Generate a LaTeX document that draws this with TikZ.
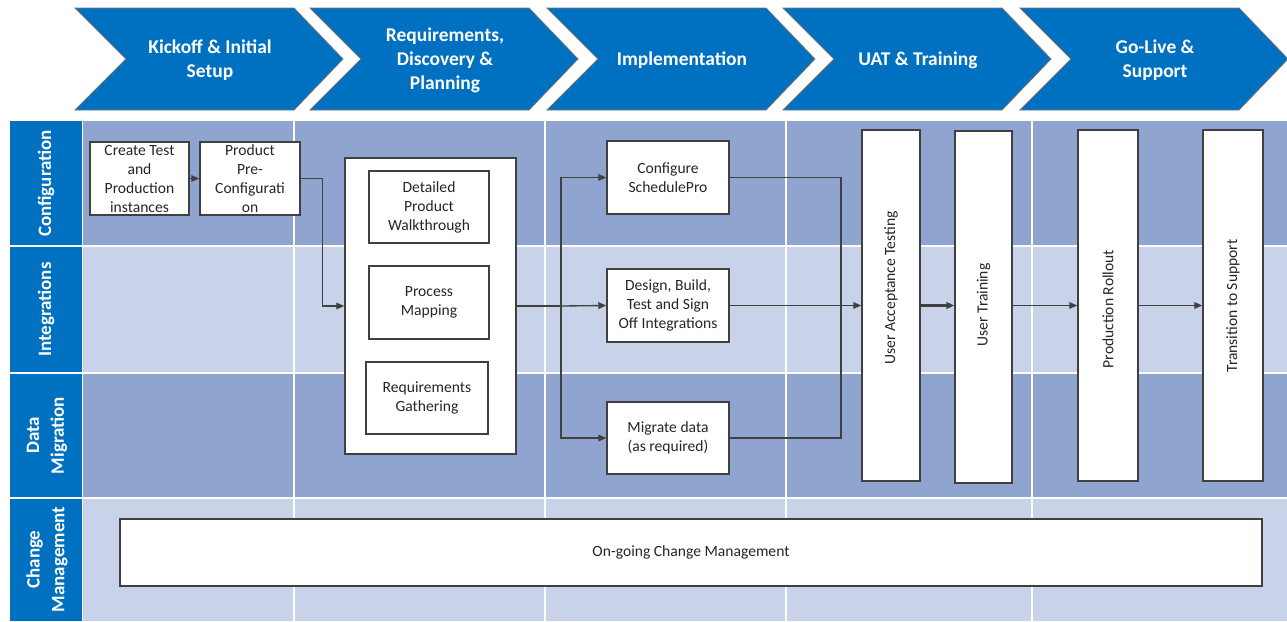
\documentclass[tikz,border=0pt]{standalone}
\usepackage{fontspec}
\setmainfont{Carlito}
\usetikzlibrary{arrows.meta}
\definecolor{chev}{RGB}{0,112,192}
\definecolor{rowdark}{RGB}{143,165,208}
\definecolor{rowlight}{RGB}{200,211,233}
\definecolor{ink}{RGB}{64,64,64}
\begin{document}
\begin{tikzpicture}[x=0.75pt,y=-0.75pt,
  box/.style={draw=ink, line width=1.1pt, fill=white, inner sep=0pt, align=center,
    font=\fontsize{11.7}{14.25}\selectfont, text=black!85},
  % a box given by its corners: left/top/right/bottom
  spans/.style args={#1/#2/#3/#4}{minimum width={(#3-#1)*0.75pt},
    minimum height={(#4-#2)*0.75pt}, at={({(#1+#3)/2},{(#2+#4)/2})}},
  tall/.style={rotate=90, inner sep=0pt, font=\fontsize{11.7}{14}\selectfont, text=black!85},
  flow/.style={draw=ink, line width=1pt, -{Triangle[length=6pt,width=5pt]}},
  heavyflow/.style={flow, line width=1.8pt},
  link/.style={draw=ink, line width=1pt},
  phase/.style={fill=chev, draw=black!55, line width=0.6pt},
  phasetext/.style={text=white, font=\bfseries\fontsize{14.6}{18}\selectfont, align=center},
  lanetext/.style={text=white, font=\bfseries\fontsize{14.2}{18.5}\selectfont, align=center, rotate=90},
  sep/.style={draw=white, line width=1.4pt}]
\useasboundingbox (0,0) rectangle (1287,621);

% phase chevrons
\foreach \x/\t [count=\i] in {75/{Kickoff \& Initial\\Setup},
    310/{Requirements,\\Discovery \&\\Planning},
    547/Implementation,
    783/{UAT \& Training},
    1020/{Go-Live \&\\Support}} {
  \filldraw[phase] (\x,8) -- ++(219,0) -- ++(49,51) -- ++(-49,51) -- ++(-219,0) -- ++(51,-51) -- cycle;
  \node[phasetext] (ph\i) at (\x+135,60) {\t};
}

% swim lanes
\fill[rowdark]  (83,121) rectangle (1287,246);
\fill[rowlight] (83,246) rectangle (1287,373);
\fill[rowdark]  (83,373) rectangle (1287,498);
\fill[rowlight] (83,498) rectangle (1287,621);
\fill[chev] (10,121) rectangle (82,621);
\foreach \y in {246,373,498} \draw[sep] (10,\y) -- (1287,\y);
\foreach \x in {82.5,294,545,786,1032} \draw[sep] (\x,121) -- (\x,621);

\node[lanetext] (lconf) at (46,183.5) {Configuration};
\node[lanetext] (lint)  at (46,309.5) {Integrations};
\node[lanetext] (ldata) at (47,435.5) {Data\\Migration};
\node[lanetext] (lchg)  at (47,559.5) {Change\\Management};

% kickoff tasks
\node[box, spans=90/142/189/215] (create) {Create Test\\and\\Production\\instances};
\node[box, spans=200/142/300/215] (prod) {Product\\Pre-\\Configurati\\on};

% discovery group
\node[box, spans=345/158/516/454] (disc) {};
\node[box, spans=369/171/489/243] (walk) {Detailed\\Product\\Walkthrough};
\node[box, spans=369/266/489/339] (map) {Process\\Mapping};
\node[box, spans=366/362/488/434] (reqs) {Requirements\\Gathering};

% implementation tasks
\node[box, spans=607/141/729/214] (conf) {Configure\\SchedulePro};
\node[box, spans=607/269/729/342] (integ) {Design, Build,\\Test and Sign\\Off Integrations};
\node[box, spans=607/402/729/474] (mig) {Migrate data\\(as required)};

% UAT, training, go-live
\node[box, spans=862/130/920/481] (uat) {};
\node[tall] (uatt) at (891,288) {User Acceptance Testing};
\node[box, spans=955/131/1012/483] (ut) {};
\node[tall] (utt) at (983.5,305) {User Training};
\node[box, spans=1078/130/1138/481] (pr) {};
\node[tall] (prt) at (1108,309) {Production Rollout};
\node[box, spans=1203/130/1263/481] (ts) {};
\node[tall] (tst) at (1233,306) {Transition to Support};

% change management
\node[box, spans=120/519/1262/586] (chg) {On-going Change Management};

% connectors
\coordinate (split) at (561,306);
\coordinate (join) at (841,306);
\draw[flow] (create.east) -- (prod.east -| prod.west);
\draw[flow] (prod.east) -- ++(22,0) |- (disc.west);
\draw[link] (disc.east) -- (split);
\draw[flow] (split) -- (integ.west);
\draw[flow] (split) |- (conf.west);
\draw[flow] (split) |- (mig.west);
\draw[link] (conf.east) -| (join);
\draw[link] (mig.east) -| (join);
\draw[flow] (integ.east) -- (uat.west |- integ.east);
\draw[heavyflow] (uat.east |- integ.east) -- (ut.west |- integ.east);
\draw[flow, line width=0.7pt] (ut.east |- integ.east) -- (pr.west |- integ.east);
\draw[flow] (pr.east |- integ.east) -- (ts.west |- integ.east);
\end{tikzpicture}
\end{document}
